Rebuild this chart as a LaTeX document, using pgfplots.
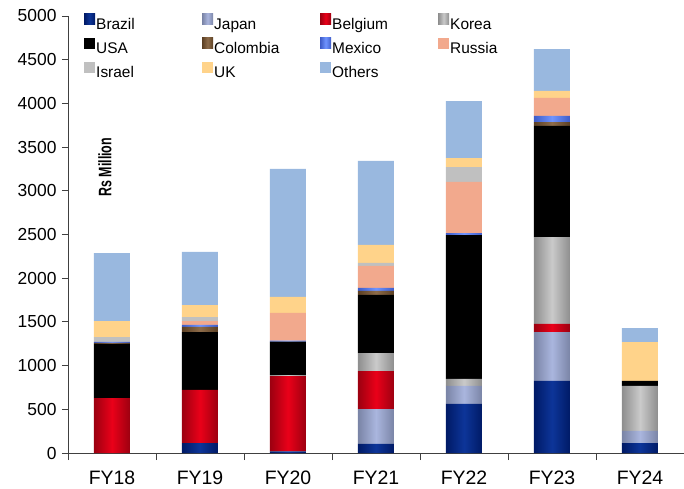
\documentclass[border=0pt]{standalone}
\usepackage{fontspec}
\setmainfont{Liberation Sans}
\usepackage{pgfplots}
\usepackage{pgfplotstable}
\pgfplotsset{compat=1.18}

\definecolor{axisgray}{HTML}{404040}
\definecolor{brazilE}{HTML}{001A66}\definecolor{brazilM}{HTML}{0D3599}
\definecolor{japanE}{HTML}{7A84A6}\definecolor{japanM}{HTML}{AAB6DE}
\definecolor{belgE}{HTML}{9C0010}\definecolor{belgM}{HTML}{EA0019}
\definecolor{koreaE}{HTML}{8E8E8E}\definecolor{koreaM}{HTML}{CACACA}
\definecolor{colE}{HTML}{5C4024}\definecolor{colM}{HTML}{8E6C4A}
\definecolor{mexE}{HTML}{3E5CC8}\definecolor{mexM}{HTML}{7094FF}
\definecolor{russia}{HTML}{F2A98D}
\definecolor{israel}{HTML}{C0C0C0}
\definecolor{uk}{HTML}{FFD38A}
\definecolor{others}{HTML}{99B8DF}

% A horizontal shading giving each bar of a series a dark-light-dark band.
% The series' path spans from its first to its last non-empty bar
% (bar pitch 88bp, bar width 36bp); that span is mapped onto 25bp..75bp.
% Arguments: name, edge colour, middle colour, first bar, last bar.
\newcommand\cylshading[5]{%
  \pgfmathsetmacro\cw{(#5-#4)*88+36}%
  \gdef\stops{color(0bp)=(#2)}%
  \foreach \i in {#4,...,#5}{%
    \pgfmathsetmacro\sa{25+((\i-#4)*88)/\cw*50}%
    \pgfmathsetmacro\sb{25+((\i-#4)*88+18)/\cw*50}%
    \pgfmathsetmacro\sc{25+((\i-#4)*88+36)/\cw*50}%
    \xdef\stops{\stops; color(\sa bp)=(#2); color(\sb bp)=(#3); color(\sc bp)=(#2)}%
  }%
  \xdef\stops{\stops; color(100bp)=(#2)}%
  \edef\tmp{\noexpand\pgfdeclarehorizontalshading{#1}{100bp}{\stops}}\tmp}
\cylshading{shBrazil}{brazilE}{brazilM}{1}{6}
\cylshading{shJapan}{japanE}{japanM}{3}{6}
\cylshading{shBelg}{belgE}{belgM}{0}{5}
\cylshading{shKorea}{koreaE}{koreaM}{2}{6}
\cylshading{shCol}{colE}{colM}{0}{5}
\cylshading{shMex}{mexE}{mexM}{0}{5}

% export revenue by destination, Rs Million
\pgfplotstableread{
x Brazil Japan Belgium Korea USA Colombia Mexico Russia Israel UK Others
0 0 0 629 0 621 10 12 0 55 183 778
1 114 0 607 0 663 58 23 45 46 137 607
2 20 0 861 10 383 0 11 317 0 183 1465
3 103 400 435 206 664 46 34 252 34 206 961
4 561 206 0 80 1647 0 23 584 171 103 652
5 824 560 92 995 1271 45 69 206 0 80 480
6 114 138 0 515 57 0 0 0 0 446 160
}\data

\pgfplotsset{
  cyl/.style n args={3}{shade, shading=#1, shading angle=0, draw=none,
    legend image code/.code={\path[left color=#2, right color=#2, middle color=#3]
      (0bp,0.5bp) rectangle (11bp,11.5bp);}},
  flat/.style={fill=#1, draw=none},
}

\begin{document}
\begin{tikzpicture}
\useasboundingbox (-68bp,-36bp) rectangle (616bp,453bp);
\begin{axis}[
  at={(0,0)}, anchor=south west,
  scale only axis, width=616bp, height=437bp,
  ybar stacked, bar width=36bp,
  xmin=-0.5, xmax=6.5, ymin=0, ymax=5000,
  axis x line*=bottom, axis y line*=left,
  axis line style={draw=axisgray, line width=0.9bp},
  xtick={0,...,6},
  xticklabels={FY18,FY19,FY20,FY21,FY22,FY23,FY24},
  major x tick style={draw=none},
  minor xtick={-0.5,0.5,...,6.5},
  minor x tick style={draw=axisgray, line width=0.9bp},
  ytick={0,500,...,5000},
  y tick style={draw=axisgray, line width=0.9bp},
  tick align=outside,
  major tick length=6bp, minor tick length=7bp,
  /pgf/number format/assume math mode=true,
  /pgf/number format/1000 sep={},
  yticklabel style={font=\fontsize{17.5}{20}\selectfont, xshift=-2bp},
  xticklabel style={font=\fontsize{19.5}{22}\selectfont, yshift=-8bp},
  legend columns=4,
  legend style={at={(0.026,1.006)}, anchor=north west, draw=none, fill=none,
    inner sep=0pt, column sep=0pt, row sep=4.6bp,
    font=\fontsize{15.5}{18}\selectfont,
    nodes={inner sep=1bp, text height=11bp, text depth=3bp}},
  legend cell align=left,
  legend image code/.code={\path[#1] (0bp,0.5bp) rectangle (11bp,11.5bp);},
  clip=false,
]
\addplot[cyl={shBrazil}{brazilE}{brazilM}] table[x=x, y=Brazil]{\data};
\addplot[cyl={shJapan}{japanE}{japanM}] table[x=x, y=Japan]{\data};
\addplot[cyl={shBelg}{belgE}{belgM}] table[x=x, y=Belgium]{\data};
\addplot[cyl={shKorea}{koreaE}{koreaM}] table[x=x, y=Korea]{\data};
\addplot[flat=black] table[x=x, y=USA]{\data};
\addplot[cyl={shCol}{colE}{colM}] table[x=x, y=Colombia]{\data};
\addplot[cyl={shMex}{mexE}{mexM}] table[x=x, y=Mexico]{\data};
\addplot[flat=russia] table[x=x, y=Russia]{\data};
\addplot[flat=israel] table[x=x, y=Israel]{\data};
\addplot[flat=uk] table[x=x, y=UK]{\data};
\addplot[flat=others] table[x=x, y=Others]{\data};
\legend{\makebox[105bp][l]{Brazil},\makebox[105bp][l]{Japan},\makebox[105bp][l]{Belgium},\makebox[105bp][l]{Korea},
  \makebox[105bp][l]{USA},\makebox[105bp][l]{Colombia},\makebox[105bp][l]{Mexico},\makebox[105bp][l]{Russia},
  \makebox[105bp][l]{Israel},\makebox[105bp][l]{UK},\makebox[105bp][l]{Others}}
\node[xscale=1.45, rotate=90, font=\bfseries\fontsize{12.5}{15}\selectfont]
  at (rel axis cs:0.06,0.654) {Rs Million};
\end{axis}
\end{tikzpicture}
\end{document}
